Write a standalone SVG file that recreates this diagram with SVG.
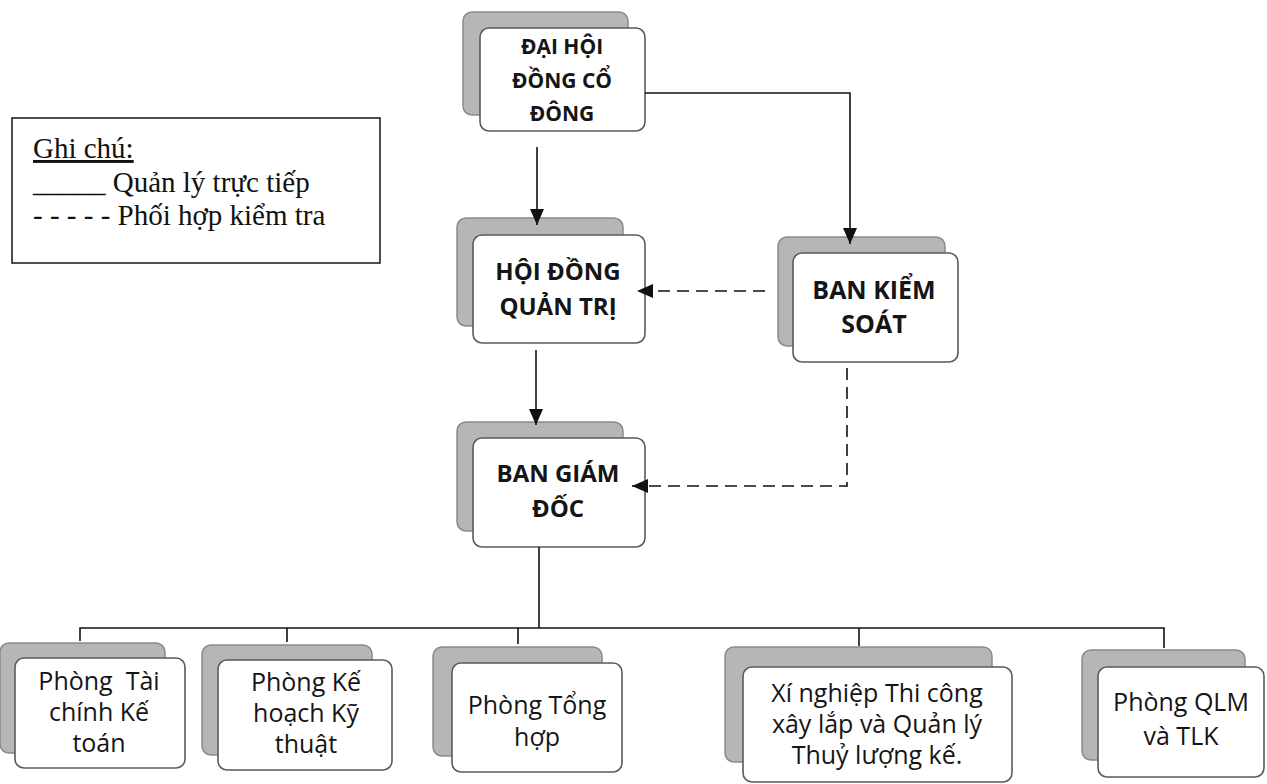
<svg xmlns="http://www.w3.org/2000/svg" width="1267" height="784" viewBox="0 0 1267 784">
<style>
.sh{fill:#b6b6b6;stroke:#8a8a8a;stroke-width:1.5}
.fr{fill:#fff;stroke:#5a5a5a;stroke-width:1.6}
.tb{font-family:"Open Sans","Noto Sans",sans-serif;font-weight:bold;font-size:24px;fill:#151515;text-anchor:middle}
.tn{font-family:"Open Sans","Noto Sans",sans-serif;font-size:25px;fill:#151515;text-anchor:middle}
.lg{font-family:"Liberation Serif",serif;font-size:29px;fill:#111}
.ln{fill:none;stroke:#111;stroke-width:1.6}
.ds{fill:none;stroke:#111;stroke-width:1.6;stroke-dasharray:12,7}
</style>
<defs>
<marker id="ah" viewBox="0 0 16 14" refX="16" refY="7" markerWidth="16" markerHeight="14" markerUnits="userSpaceOnUse" orient="auto">
<path d="M0,0 L16,7 L0,14 z" fill="#111"/>
</marker>
</defs>
<rect width="1267" height="784" fill="#fff"/>

<g id="legend">
<rect x="12" y="118" width="368" height="145" fill="#fff" stroke="#222" stroke-width="1.6"/>
<text class="lg" x="33" y="158" text-decoration="underline">Ghi chú:</text>
<text class="lg" x="33" y="192">_____ Quản lý trực tiếp</text>
<text class="lg" x="33" y="225">- - - - - Phối hợp kiểm tra</text>
</g>

<g id="dhdcd">
<rect class="sh" x="463" y="12" width="165" height="103" rx="9"/>
<rect class="fr" x="480" y="28" width="165" height="103" rx="9"/>
<text class="tb" x="562" y="54" style="font-size:21px">ĐẠI HỘI</text>
<text class="tb" x="562" y="88" style="font-size:21px">ĐỒNG CỔ</text>
<text class="tb" x="562" y="121" style="font-size:21px">ĐÔNG</text>
</g>

<g id="hdqt">
<rect class="sh" x="457" y="218" width="166" height="108" rx="9"/>
<rect class="fr" x="473" y="235" width="172" height="108" rx="9"/>
<text class="tb" x="558" y="280">HỘI ĐỒNG</text>
<text class="tb" x="558" y="315">QUẢN TRỊ</text>
</g>

<g id="bks">
<rect class="sh" x="778" y="237" width="167" height="109" rx="9"/>
<rect class="fr" x="793" y="253" width="165" height="109" rx="9"/>
<text class="tb" x="874" y="299" style="font-size:25px">BAN KIỂM</text>
<text class="tb" x="874" y="333" style="font-size:25px">SOÁT</text>
</g>

<g id="bgd">
<rect class="sh" x="457" y="422" width="166" height="109" rx="9"/>
<rect class="fr" x="473" y="438" width="172" height="109" rx="9"/>
<text class="tb" x="558" y="482">BAN GIÁM</text>
<text class="tb" x="558" y="517">ĐỐC</text>
</g>

<g id="ptckt">
<rect class="sh" x="0" y="643" width="165" height="110" rx="9"/>
<rect class="fr" x="15" y="658" width="170" height="110" rx="9"/>
<text class="tn" x="99" y="690" xml:space="preserve">Phòng  Tài</text>
<text class="tn" x="99" y="721">chính Kế</text>
<text class="tn" x="99" y="752">toán</text>
</g>

<g id="pkhkt">
<rect class="sh" x="202" y="645" width="170" height="110" rx="9"/>
<rect class="fr" x="218" y="660" width="174" height="110" rx="9"/>
<text class="tn" x="306" y="691">Phòng Kế</text>
<text class="tn" x="306" y="722">hoạch Kỹ</text>
<text class="tn" x="306" y="753">thuật</text>
</g>

<g id="pth">
<rect class="sh" x="433" y="647" width="169" height="109" rx="9"/>
<rect class="fr" x="452" y="663" width="170" height="109" rx="9"/>
<text class="tn" x="537" y="714">Phòng Tổng</text>
<text class="tn" x="537" y="746">hợp</text>
</g>

<g id="xntc">
<rect class="sh" x="725" y="647" width="267" height="115" rx="9"/>
<rect class="fr" x="743" y="667" width="269" height="115" rx="9"/>
<text class="tn" x="877" y="702">Xí nghiệp Thi công</text>
<text class="tn" x="877" y="733">xây lắp và Quản lý</text>
<text class="tn" x="877" y="764">Thuỷ lượng kế.</text>
</g>

<g id="pqlm">
<rect class="sh" x="1082" y="650" width="163" height="110" rx="9"/>
<rect class="fr" x="1098" y="667" width="166" height="110" rx="9"/>
<text class="tn" x="1181" y="711">Phòng QLM</text>
<text class="tn" x="1181" y="745">và TLK</text>
</g>

<g id="connectors">
<path class="ln" d="M537,147 V225" marker-end="url(#ah)"/>
<path class="ln" d="M645,93 H850 V244" marker-end="url(#ah)"/>
<path class="ds" d="M765,291 H637" marker-end="url(#ah)"/>
<path class="ln" d="M536,350 V425" marker-end="url(#ah)"/>
<path class="ds" d="M847,368 V486 H632" marker-end="url(#ah)"/>
<path class="ln" d="M539,547 V628"/>
<path class="ln" d="M80,641 V628 H1164 V648"/>
<path class="ln" d="M287,628 V642"/>
<path class="ln" d="M518,628 V644"/>
<path class="ln" d="M859,628 V646"/>
</g>
</svg>
